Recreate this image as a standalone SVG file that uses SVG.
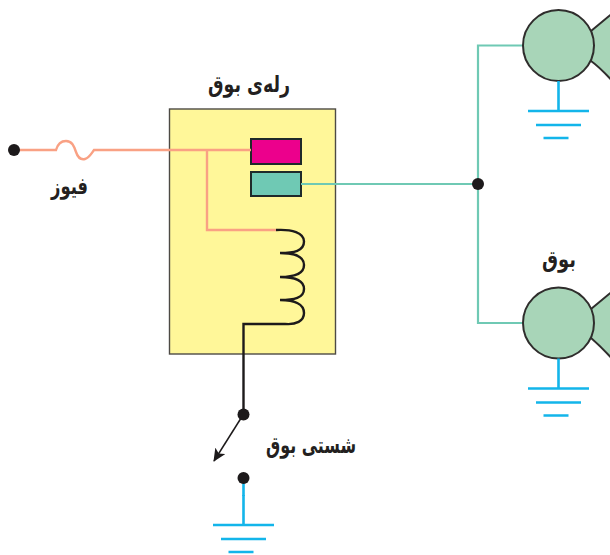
<svg xmlns="http://www.w3.org/2000/svg" width="610" height="555" viewBox="0 0 610 555">
<style>
.o{fill:none;stroke:#f9a184;stroke-width:2.4}
.t{fill:none;stroke:#6fc9b4;stroke-width:2.2}
.k{fill:none;stroke:#1d1a1b;stroke-width:2.4}
.g{fill:none;stroke:#13b5ea;stroke-width:2.6}
.d{fill:#1d1a1b}
.s{fill:#a8d5b8;stroke:#2f2d2c;stroke-width:2}
text{font-family:"DejaVu Sans",sans-serif;font-weight:700;font-size:23px;fill:#231f20;text-anchor:middle}
</style>
<defs>
<marker id="ah" markerUnits="userSpaceOnUse" markerWidth="14" markerHeight="12" refX="12" refY="6" orient="auto"><path d="M0 0L13 6L0 12L3 6Z" fill="#1d1a1b"/></marker>
<g id="gnd"><path class="g" d="M0 0V30M-30.500 30H30.500M-22.500 44H22.500M-15 57H10"/></g>
</defs>
<g id="relay"><rect x="169.500" y="109" width="166" height="245" fill="#fff799" stroke="#4d4a45" stroke-width="1.400"/><text x="249" y="92" direction="rtl" textLength="82" lengthAdjust="spacingAndGlyphs">رله‌ی بوق</text></g>
<g id="contact-pink"><rect x="251" y="139" width="50" height="25" fill="#ec008c" stroke="#1f2a2a" stroke-width="2"/></g>
<g id="contact-teal"><rect x="251" y="172" width="50" height="24" fill="#6fc9b4" stroke="#1f2a2a" stroke-width="2"/></g>
<g id="connectors">
<path class="o" d="M14 150H56C58 143 62 141 66 141C72 141 74 146 76 152C78 158 81 160 85 159C89 158 91 154 94 150H251M207 150V230H276"/>
<path class="t" d="M301 184H478M523 45.500H478V323H523"/>
<path class="k" d="M276 230C292 229 304 233 304 241.500C304 251 294 253 280 253M280 253C294 253 304 256 304 265C304 274 294 277 280 277M280 277C294 277 304 280 304 289C304 298 294 300 280 300M280 300C294 300 304 304 304 313C304 321 296 325 285 324H243.500V414" />
<path fill="none" stroke="#1d1a1b" stroke-width="1.500" d="M243 415L214 461" marker-end="url(#ah)"/>
</g>
<g id="fuse-terminal"><circle class="d" cx="14" cy="150" r="6"/></g>
<g id="fuse-label"><text x="69.500" y="194" direction="rtl" textLength="37" lengthAdjust="spacingAndGlyphs">فیوز</text></g>
<g id="junction"><circle class="d" cx="478" cy="184" r="6"/></g>
<g id="horn-top"><path class="s" d="M591 31L614 12V83C606 74 598 66 591 61Z"/><circle class="s" cx="558.500" cy="45.500" r="35.500"/><use href="#gnd" x="558.500" y="81"/></g>
<g id="horn-bottom"><path class="s" d="M591 309L614 290V361C606 352 598 344 591 338Z"/><circle class="s" cx="558.500" cy="323" r="35.500"/><use href="#gnd" x="558.500" y="358.500"/><text x="559" y="267" direction="rtl" textLength="34" lengthAdjust="spacingAndGlyphs">بوق</text></g>
<g id="switch"><use href="#gnd" x="243.500" y="495"/><path class="g" d="M243.500 480V496"/><circle class="d" cx="243.500" cy="414.500" r="6"/><circle class="d" cx="243.500" cy="478" r="6"/><text x="311" y="453" direction="rtl" textLength="90" lengthAdjust="spacingAndGlyphs">شستی بوق</text></g>
</svg>
